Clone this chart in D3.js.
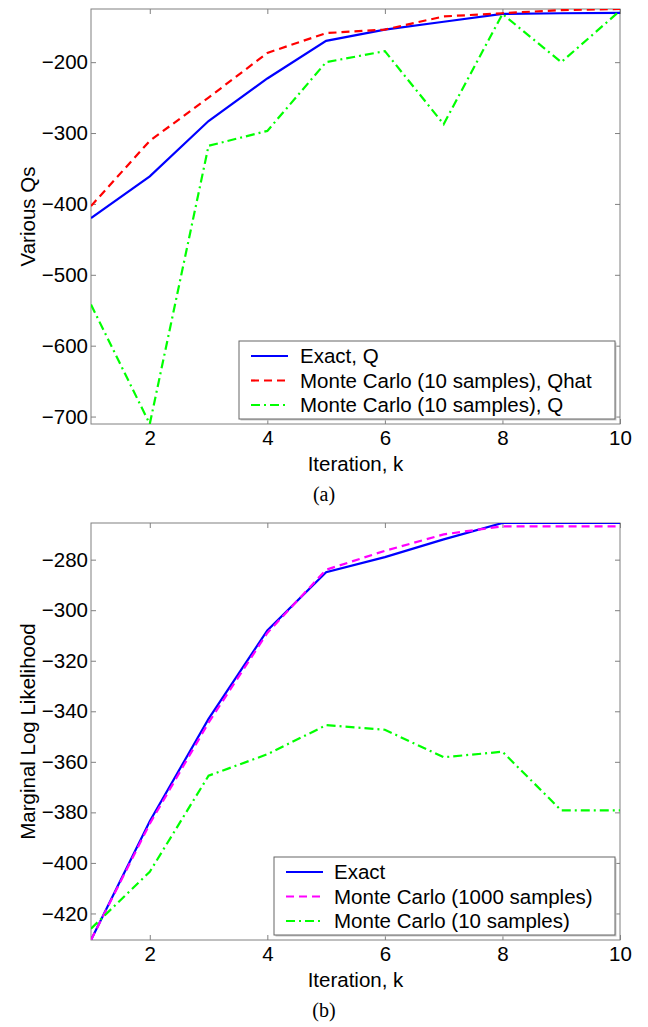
<!DOCTYPE html>
<html>
<head>
<meta charset="utf-8">
<script src="https://cdn.jsdelivr.net/npm/d3@7/dist/d3.min.js"></script>
<style>
  html, body { margin: 0; padding: 0; background: #fff; }
  svg text { font-family: "Liberation Sans", Arial, Helvetica, sans-serif; fill: #000; }
</style>
</head>
<body>
<svg id="chart" width="648" height="1027"></svg>
<script>
// ---------- data ----------
const iterations = [1, 2, 3, 4, 5, 6, 7, 8, 9, 10];

// Panel (a)
const exactQ      = [-420, -361, -283, -223, -170, -154, -143, -132, -131, -130.5];
const mcQhat      = [-403, -311, -250, -187, -159, -154, -135.5, -131, -126.5, -125];
const mcQ         = [-542, -710.5, -318, -297, -200, -184.5, -287.5, -132, -200, -127.5];
const aYTicks     = [-200, -300, -400, -500, -600, -700];
const aLegend     = ["Exact, Q", "Monte Carlo (10 samples), Qhat", "Monte Carlo (10 samples), Q"];

// Panel (b)
const exactLL     = [-430.5, -383.5, -343, -308, -285, -279, -272, -265.5, -265.5, -265.5];
const mc1000LL    = [-430.5, -384.5, -344.5, -309, -284, -276.5, -270, -266.8, -266.8, -266.8];
const mc10LL      = [-426, -403.5, -365.5, -357, -345.5, -347.3, -358.2, -356, -379.2, -379.2];
const bYTicks     = [-280, -300, -320, -340, -360, -380, -400, -420];
const bLegend     = ["Exact", "Monte Carlo (1000 samples)", "Monte Carlo (10 samples)"];

const xTicks      = [2, 4, 6, 8, 10];

// ---------- drawing ----------
const svg = d3.select("#chart");
const left = 91, right = 620;
const FS = "20.5px";

const styles = {
  solid:   { color: "#0000ff", dash: null },
  dashRed: { color: "#ff0000", dash: "8,5" },
  dashMag: { color: "#ff00ff", dash: "8,5" },
  dashDot: { color: "#00ff00", dash: "9,4,2,4" }
};

function panel(opt) {
  const g = svg.append("g");
  const x = d3.scaleLinear().domain([1, 10]).range([left, right]);
  const y = d3.scaleLinear().domain(opt.yDomain).range([opt.bottom, opt.top]);

  const clipId = "clip" + opt.id;
  svg.append("clipPath").attr("id", clipId)
    .append("rect").attr("x", left).attr("y", opt.top)
    .attr("width", right - left).attr("height", opt.bottom - opt.top);

  g.append("rect").attr("x", left).attr("y", opt.top)
    .attr("width", right - left).attr("height", opt.bottom - opt.top)
    .attr("fill", "none").attr("stroke", "#808080").attr("stroke-width", 1);

  const tl = 5;
  const xAxisB = d3.axisBottom(x).tickValues(xTicks).tickSize(-tl).tickPadding(6).tickFormat(d3.format("d"));
  const gxb = g.append("g").attr("transform", `translate(0,${opt.bottom})`).call(xAxisB);
  const xAxisT = d3.axisTop(x).tickValues(xTicks).tickSize(-tl).tickFormat("");
  const gxt = g.append("g").attr("transform", `translate(0,${opt.top})`).call(xAxisT);
  const fmtY = d => (d < 0 ? "\u2212" + Math.abs(d) : String(d));
  const yAxisL = d3.axisLeft(y).tickValues(opt.yTicks).tickSize(-tl).tickPadding(3).tickFormat(fmtY);
  const gyl = g.append("g").attr("transform", `translate(${left},0)`).call(yAxisL);
  const yAxisR = d3.axisRight(y).tickValues(opt.yTicks).tickSize(-tl).tickFormat("");
  const gyr = g.append("g").attr("transform", `translate(${right},0)`).call(yAxisR);

  [gxb, gxt, gyl, gyr].forEach(a => {
    a.select(".domain").remove();
    a.selectAll(".tick line").attr("stroke", "#808080");
    a.selectAll("text").style("font-size", FS).style("font-family", "Liberation Sans, Arial, sans-serif").attr("fill", "#000");
  });

  const line = d3.line().x((d, i) => x(iterations[i])).y(d => y(d));
  const lg = g.append("g").attr("clip-path", `url(#${clipId})`);
  opt.series.forEach(s => {
    const st = styles[s.style];
    lg.append("path").datum(s.values).attr("d", line)
      .attr("fill", "none").attr("stroke", st.color).attr("stroke-width", 2.2)
      .attr("stroke-dasharray", st.dash).attr("stroke-linejoin", "miter");
  });

  const L = opt.legend;
  const lgG = g.append("g");
  lgG.append("rect").attr("x", L.x + 1.5).attr("y", L.y + 1.5).attr("width", L.w).attr("height", L.h)
    .attr("fill", "#c8c8c8");
  lgG.append("rect").attr("x", L.x).attr("y", L.y).attr("width", L.w).attr("height", L.h)
    .attr("fill", "#fff").attr("stroke", "#666").attr("stroke-width", 1);
  opt.series.forEach((s, i) => {
    const st = styles[s.style];
    const yy = L.y + L.row0 + i * L.rowH;
    lgG.append("line").attr("x1", L.x + L.l1).attr("x2", L.x + L.l2).attr("y1", yy).attr("y2", yy)
      .attr("stroke", st.color).attr("stroke-width", 2.2).attr("stroke-dasharray", st.dash);
    lgG.append("text").attr("x", L.x + L.tx).attr("y", yy).attr("dy", "0.36em")
      .style("font-size", FS).text(opt.legendLabels[i]);
  });

  g.append("text").attr("x", (left + right) / 2).attr("y", opt.bottom + 47)
    .attr("text-anchor", "middle").style("font-size", FS).text("Iteration, k");
  g.append("text").attr("transform", `translate(28,${(opt.top + opt.bottom) / 2}) rotate(-90)`)
    .attr("text-anchor", "middle").attr("dy", "0.36em").style("font-size", FS).text(opt.yLabel);
  g.append("text").attr("x", 324).attr("y", opt.bottom + 77)
    .attr("text-anchor", "middle").style("font-family", "Liberation Serif, Times New Roman, serif")
    .style("font-size", "20px").text(opt.caption);
}

panel({
  id: "a", top: 9, bottom: 424, yDomain: [-710.5, -125], yTicks: aYTicks,
  yLabel: "Various Qs", caption: "(a)", legendLabels: aLegend,
  series: [
    { values: exactQ, style: "solid" },
    { values: mcQhat, style: "dashRed" },
    { values: mcQ, style: "dashDot" }
  ],
  legend: { x: 239, y: 341, w: 376, h: 78, row0: 15, rowH: 24.5, l1: 12, l2: 49, tx: 61 }
});

panel({
  id: "b", top: 523, bottom: 940, yDomain: [-430.5, -265.5], yTicks: bYTicks,
  yLabel: "Marginal Log Likelihood", caption: "(b)", legendLabels: bLegend,
  series: [
    { values: exactLL, style: "solid" },
    { values: mc1000LL, style: "dashMag" },
    { values: mc10LL, style: "dashDot" }
  ],
  legend: { x: 274, y: 857, w: 341, h: 78, row0: 15, rowH: 24.5, l1: 12, l2: 49, tx: 60 }
});
</script>
</body>
</html>
